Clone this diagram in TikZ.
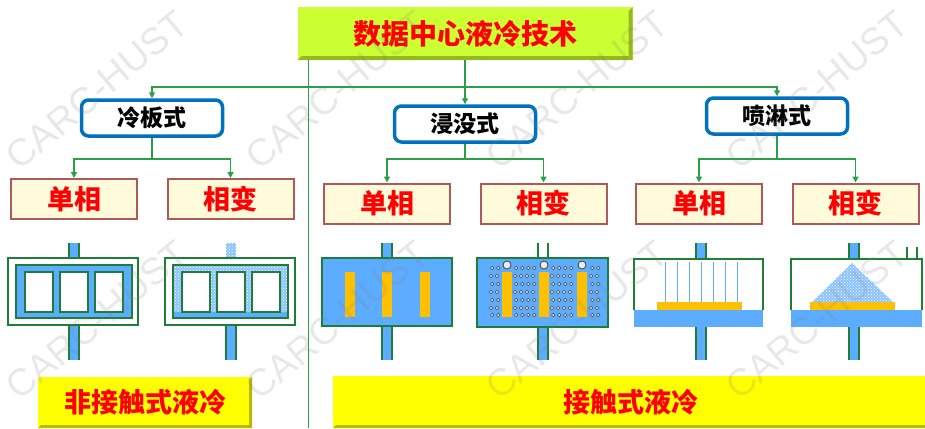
\documentclass[tikz,border=0pt]{standalone}
\usepackage{fontspec}
\setmainfont{Liberation Sans}
\newfontfamily\cjk{Noto Sans CJK SC}
\usepackage{tikz}
\usetikzlibrary{calc}
\usetikzlibrary{positioning}
\usetikzlibrary{arrows.meta, patterns}

\definecolor{lnkgreen}{RGB}{40,160,70}
\definecolor{dkgreen}{RGB}{30,125,55}
\definecolor{coolblue}{RGB}{92,172,255}
\definecolor{vapblue}{RGB}{140,195,255}
\definecolor{chipgold}{RGB}{255,192,0}
\definecolor{limefill}{RGB}{204,255,51}
\definecolor{limeedge}{RGB}{150,185,30}
\definecolor{yelfill}{RGB}{255,255,0}
\definecolor{yeledge}{RGB}{185,185,0}
\definecolor{catblue}{RGB}{0,112,192}
\definecolor{creamfill}{RGB}{255,250,218}
\definecolor{boxbrown}{RGB}{175,90,90}

\tikzset{
  topbox/.style={fill=limefill, minimum width=335pt, minimum height=53pt, inner sep=0pt,
    text=red, font=\cjk\bfseries\fontsize{28}{30}\selectfont},
  catbox/.style={draw=catblue, line width=3.5pt, rounded corners=7pt, fill=white,
    minimum width=141pt, minimum height=36pt, inner sep=0pt,
    font=\cjk\bfseries\fontsize{23}{25}\selectfont},
  phasebox/.style={draw=boxbrown, line width=2pt, fill=creamfill, minimum width=126pt,
    minimum height=40pt, inner sep=0pt, text=red,
    font=\cjk\bfseries\fontsize{27}{29}\selectfont},
  groupbox/.style={fill=yelfill, inner sep=0pt, text=red,
    font=\cjk\bfseries\fontsize{27}{29}\selectfont},
  link/.style={draw=lnkgreen, line width=1.8pt},
  arrowed/.style={-{Triangle[length=6pt,width=6pt]}},
  wall/.style={draw=dkgreen, line width=1.6pt},
  vapor/.style={fill=vapblue, postaction={pattern=crosshatch dots, pattern color=white}},
  bub/.style={fill=white!85!gray, draw=gray!50!black, line width=0.5pt},
  wmark/.style={rotate=40, inner sep=0pt, text=black!50, text opacity=0.18,
    font=\fontsize{38}{40}\selectfont}
}

\begin{document}
\begin{tikzpicture}[x=1pt,y=1pt,yscale=-1,xscale=1]
\useasboundingbox (0,0) rectangle (925,428);

% Text Node: title
\node[topbox] (top) at (465,33.5) {数据中心液冷技术};
\fill[limeedge] (top.north east) -- (top.south east) -- (top.south west) -- ($(top.south west)+(4,-4)$) -- ($(top.south east)+(-4,-4)$) -- ($(top.north east)+(-4,4)$) -- cycle;

%Straight Lines: divider
\draw[lnkgreen, line width=0.8pt] (308,60) -- (308,428);

% Text Node: cooling types
\node[catbox] (plate) at (152,118) {冷板式};
\node[catbox] (immerse) at (465,124) {浸没式};
\node[catbox] (spray) at (777,116) {喷淋式};

% Text Node: phase boxes
\node[phasebox] (plate1) at (74,199) {单相};
\node[phasebox] (plate2) at (230.5,199) {相变};
\node[phasebox] (immerse1) at (387,203.5) {单相};
\node[phasebox] (immerse2) at (543.5,203.5) {相变};
\node[phasebox] (spray1) at (699,203.5) {单相};
\node[phasebox] (spray2) at (855.5,203.5) {相变};

% connectors
\coordinate (busline) at (0,87);
\coordinate (rowline) at (0,159);
\draw[link] (top.south) -- (top.south |- busline) coordinate (bus);
\draw[link,arrowed] (bus) -| (plate.north);
\draw[link,arrowed] (bus) -- (immerse.north);
\draw[link,arrowed] (bus) -| (spray.north);
\foreach \cat in {plate,immerse,spray}{
  \draw[link] (\cat.south) -- (\cat.south |- rowline) coordinate (\cat-hub);
  \draw[link,arrowed] (\cat-hub) -| (\cat1.north);
  \draw[link,arrowed] (\cat-hub) -| (\cat2.north);
}

% pipes
\foreach \px/\pa/\pb in {69/243/258, 69/325/360, 226/325/360, 382/243/258, 382/326/360,
    538/327/360, 696/243/259, 696/327/360, 849/243/259, 849/327/360}{
  \fill[coolblue] (\px,\pa) rectangle ({\px+10},\pb);
  \draw[dkgreen, line width=1.5pt] (\px,\pa) -- (\px,\pb) ({\px+10},\pa) -- ({\px+10},\pb);
}
\fill[vapor] (226,243) rectangle (236,258);
\draw[dkgreen, line width=1.5pt] (538,243) -- (538,258) (548,243) -- (548,258);
\draw[dkgreen, line width=1.5pt] (907,247) -- (907,259) (917,247) -- (917,259);

%Shape: cold plate, single phase
\draw[wall, fill=white] (8,258) rectangle (138,325);
\draw[wall, line width=2pt, fill=coolblue] (16,265) rectangle (132,318);
\foreach \wx in {25,60,95}
  \draw[wall, line width=2pt, fill=white] (\wx,272) rectangle ++(28,40);

%Shape: cold plate, phase change
\draw[wall, fill=white] (165,258) rectangle (295,325);
\fill[vapor] (173,265) rectangle (288,312);
\fill[coolblue] (173,312) rectangle (288,318);
\draw[wall, line width=2pt] (173,265) rectangle (288,318);
\foreach \wx in {182,217,252}
  \draw[wall, line width=2pt, fill=white] (\wx,272) rectangle ++(28,40);

%Shape: immersion, single phase
\draw[wall, fill=coolblue] (322,258) rectangle (452,326);
\foreach \cx in {345,382,420}
  \fill[chipgold] (\cx,272) rectangle ++(10,45);

%Shape: immersion, phase change
\draw[wall, fill=coolblue] (477,258) rectangle (608,327);
\foreach \cx in {502,539,577}{
  \fill[chipgold] (\cx,272) rectangle ++(10,45);
  \draw[bub, line width=0.8pt] ({\cx+5},265) circle (4);
}
\foreach \bx in {491,497,515,521,527,533,552,558,564,570,591,597}
  \foreach \by [count=\k] in {268,276,284,292,300,308,315}
    \draw[bub] ({\bx+mod(\k,2)*1.2},\by) circle (1.8);

%Shape: spray, single phase
\fill[coolblue] (634,310) rectangle (763,327);
\draw[wall] (634,310) -- (634,259) -- (763,259) -- (763,310);
\fill[chipgold] (657,302) rectangle (742,310);
\foreach \sx in {665,677,689,701,713,725,737}
  \draw[coolblue, line width=0.9pt] (\sx,262) -- (\sx,302);

%Shape: spray, phase change
\fill[coolblue] (791,310) rectangle (922,327);
\draw[wall] (791,310) -- (791,259) -- (922,259) -- (922,310);
\fill[chipgold] (810,302) rectangle (895,310);
\fill[vapor] (812,302) -- (852,263) -- (893,302) -- cycle;

% Text Node: groups
\node[groupbox, minimum width=214pt, minimum height=51pt] (nocontact) at (145,402.5) {非接触式液冷};
\fill[yeledge] (nocontact.north east) -- (nocontact.south east) -- (nocontact.south west) -- ($(nocontact.south west)+(3,-3)$) -- ($(nocontact.south east)+(-3,-3)$) -- ($(nocontact.north east)+(-3,3)$) -- cycle;
\node[groupbox, minimum width=595pt, minimum height=52pt] (contact) at (630.5,402) {接触式液冷};
\fill[yeledge] (contact.south east) -- (contact.south west) -- ($(contact.south west)+(3,-3)$) -- ($(contact.south east)+(-3,-3)$) -- cycle;

% watermark
\foreach \wx in {97,337,577,817}
  \foreach \wy in {90,320}
    \node[wmark] (wm-\wx-\wy) at (\wx,\wy) {CARC-HUST};

\end{tikzpicture}
\end{document}
